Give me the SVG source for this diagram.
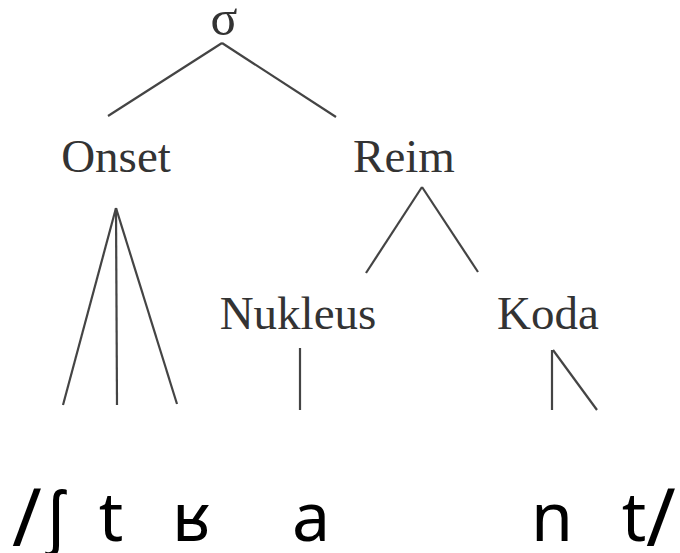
<svg xmlns="http://www.w3.org/2000/svg" width="680" height="553" viewBox="0 0 680 553">
<style>
.lbl{font-family:"Liberation Serif","Times New Roman",serif;font-size:47px;fill:#333;text-anchor:middle}
.ph{font-family:"Noto Sans","Open Sans","DejaVu Sans",sans-serif;font-size:68px;fill:#000;text-anchor:middle}
.sl{font-family:"Noto Sans","Open Sans","DejaVu Sans",sans-serif;font-size:80px;fill:#000;text-anchor:middle}
.ln{stroke:#444;stroke-width:2.2;fill:none;stroke-linecap:butt}
</style>
<rect width="680" height="553" fill="#fff"/>
<g id="connectors">
<line class="ln" x1="222" y1="43" x2="108" y2="116"/>
<line class="ln" x1="222" y1="43" x2="336" y2="117"/>
<line class="ln" x1="422" y1="187" x2="366" y2="273"/>
<line class="ln" x1="422" y1="187" x2="478" y2="272"/>
<line class="ln" x1="116" y1="208" x2="63" y2="405"/>
<line class="ln" x1="116" y1="208" x2="117" y2="405"/>
<line class="ln" x1="116" y1="208" x2="177" y2="404"/>
<line class="ln" x1="300" y1="348" x2="300" y2="410"/>
<line class="ln" x1="552" y1="350" x2="552" y2="410"/>
<line class="ln" x1="553" y1="350" x2="597" y2="410"/>
</g>
<g id="sigma"><text class="lbl" x="224" y="35" style="font-size:50px">σ</text></g>
<g id="onset"><text class="lbl" x="116" y="172">Onset</text></g>
<g id="reim"><text class="lbl" x="404" y="172">Reim</text></g>
<g id="nukleus"><text class="lbl" x="298" y="329">Nukleus</text></g>
<g id="koda"><text class="lbl" x="548" y="329">Koda</text></g>
<g id="phonemes">
<text class="sl" x="27" y="546">/</text>
<text class="ph" x="56" y="541">ʃ</text>
<text class="ph" x="111" y="541">t</text>
<text class="ph" x="191" y="541">ʁ</text>
<text class="ph" x="311" y="541">a</text>
<text class="ph" x="552" y="541">n</text>
<text class="ph" x="634" y="541">t</text>
<text class="sl" x="661" y="546">/</text>
</g>
</svg>
